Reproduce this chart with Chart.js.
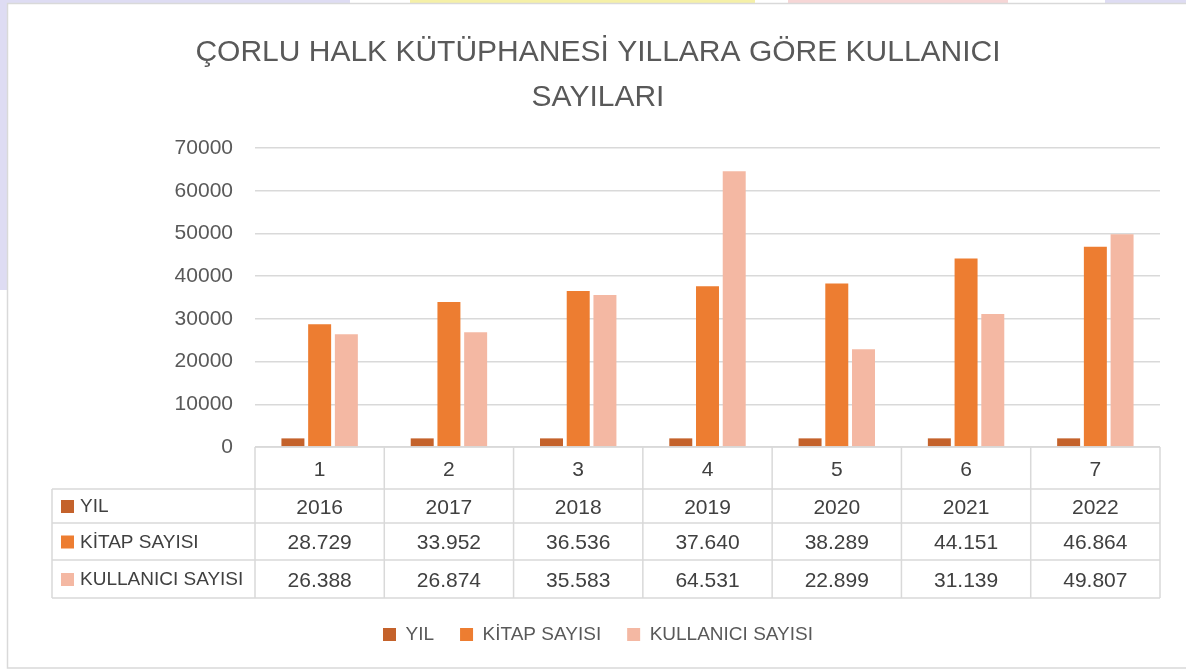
<!DOCTYPE html>
<html>
<head>
<meta charset="utf-8">
<script src="https://cdn.jsdelivr.net/npm/chart.js@4"></script>
<style>
  body { margin: 0; background: #fff; }
  #wrap { position: relative; width: 1186px; height: 672px; }
</style>
</head>
<body>
<div id="wrap"><canvas id="diagram1" width="1186" height="672"></canvas></div>
<script>
const categories = ['1', '2', '3', '4', '5', '6', '7'];
const years = [2016, 2017, 2018, 2019, 2020, 2021, 2022];
const bookCounts = [28729, 33952, 36536, 37640, 38289, 44151, 46864];
const userCounts = [26388, 26874, 35583, 64531, 22899, 31139, 49807];
const seriesNames = ['YIL', 'KİTAP SAYISI', 'KULLANICI SAYISI'];
const seriesColors = ['#c4622b', '#ed7d31', '#f4b8a3'];
const titleLines = ['ÇORLU HALK KÜTÜPHANESİ YILLARA GÖRE KULLANICI', 'SAYILARI'];

const FONT = "'Liberation Sans', Arial, sans-serif";
const TEXT = '#595959';
const LINE = '#d9d9d9';

// turkish style thousands separator: 28.729
function fmt(v) {
    return String(v).replace(/\B(?=(\d{3})+(?!\d))/g, '.');
}

const frame = {
    id: 'frame',
    beforeDraw(chart) {
        const ctx = chart.ctx;
        ctx.save();
        // faint background shapes around the chart
        ctx.fillStyle = '#dedcf3';
        ctx.fillRect(0, 0, 7, 290);
        ctx.fillRect(0, 0, 350, 3);
        ctx.fillRect(1105, 0, 81, 3);
        ctx.fillStyle = '#f5f0a8';
        ctx.fillRect(410, 0, 345, 3);
        ctx.fillStyle = '#f6d6d6';
        ctx.fillRect(788, 0, 220, 3);
        ctx.strokeStyle = LINE;
        ctx.lineWidth = 1.5;
        ctx.strokeRect(7.5, 3.5, 1200, 664.5);
        ctx.restore();
    }
};

const dataTable = {
    id: 'dataTable',
    afterDraw(chart) {
        const ctx = chart.ctx;
        const a = chart.chartArea;
        const x = chart.scales.x;
        const n = categories.length;
        const colW = (a.right - a.left) / n;
        const top = a.bottom;
        const rows = [top, top + 42, top + 76, top + 113, top + 151];
        const tableLeft = 52;
        const rowData = [years.map(String), bookCounts.map(fmt), userCounts.map(fmt)];

        ctx.save();
        ctx.strokeStyle = LINE;
        ctx.lineWidth = 1.5;
        ctx.beginPath();
        // header row (category numbers)
        ctx.moveTo(a.left, rows[0]);
        ctx.lineTo(a.right, rows[0]);
        for (let r = 1; r < rows.length; r++) {
            ctx.moveTo(tableLeft, rows[r]);
            ctx.lineTo(a.right, rows[r]);
        }
        for (let i = 0; i <= n; i++) {
            const px = a.left + i * colW;
            ctx.moveTo(px, rows[0]);
            ctx.lineTo(px, rows[4]);
        }
        ctx.moveTo(tableLeft, rows[1]);
        ctx.lineTo(tableLeft, rows[4]);
        ctx.stroke();

        ctx.fillStyle = '#404040';
        ctx.font = '21px ' + FONT;
        ctx.textAlign = 'center';
        ctx.textBaseline = 'middle';
        categories.forEach((c, i) => {
            const cx = x.getPixelForValue(i);
            ctx.fillText(c, cx, (rows[0] + rows[1]) / 2 + 2);
            for (let r = 0; r < 3; r++) {
                ctx.fillText(rowData[r][i], cx, (rows[r + 1] + rows[r + 2]) / 2 + 2);
            }
        });

        ctx.textAlign = 'left';
        ctx.font = '19px ' + FONT;
        for (let r = 0; r < 3; r++) {
            const cy = (rows[r + 1] + rows[r + 2]) / 2;
            ctx.fillStyle = seriesColors[r];
            ctx.fillRect(61, cy - 6, 13, 13);
            ctx.fillStyle = '#404040';
            ctx.fillText(seriesNames[r], 80, cy + 1);
        }
        ctx.restore();
    }
};

new Chart(
    document.getElementById('diagram1'),
    {
        type: 'bar',
        data: {
            labels: categories,
            datasets: [
                { label: seriesNames[0], data: years, backgroundColor: seriesColors[0] },
                { label: seriesNames[1], data: bookCounts, backgroundColor: seriesColors[1] },
                { label: seriesNames[2], data: userCounts, backgroundColor: seriesColors[2] }
            ]
        },
        options: {
            responsive: false,
            animation: false,
            layout: { padding: { left: 10, right: 0, top: 0, bottom: 18 } },
            datasets: {
                bar: { categoryPercentage: 0.62, barPercentage: 0.86 }
            },
            scales: {
                x: {
                    grid: { display: false },
                    border: { display: false },
                    ticks: { display: false },
                    afterFit: s => { s.height = 152; }
                },
                y: {
                    min: 0,
                    max: 70000,
                    ticks: {
                        stepSize: 10000,
                        padding: 22,
                        color: TEXT,
                        font: { family: FONT, size: 21 },
                        callback: v => String(v)
                    },
                    grid: { color: LINE, lineWidth: 1.5, drawTicks: false },
                    border: { display: false },
                    afterFit: s => { s.width = 245; }
                },
                // empty right axis, only keeps space on the right side
                yRight: {
                    position: 'right',
                    grid: { display: false },
                    border: { display: false },
                    ticks: { display: false },
                    afterFit: s => { s.width = 26; }
                }
            },
            plugins: {
                title: {
                    display: true,
                    text: titleLines,
                    color: TEXT,
                    font: { family: FONT, size: 30, weight: 'normal', lineHeight: 1.5 },
                    padding: { top: 30, bottom: 28 }
                },
                legend: {
                    position: 'bottom',
                    labels: {
                        color: TEXT,
                        boxWidth: 13,
                        boxHeight: 13,
                        padding: 26,
                        font: { family: FONT, size: 19 }
                    }
                },
                tooltip: { enabled: false }
            }
        },
        plugins: [frame, dataTable]
    }
);
</script>
</body>
</html>
